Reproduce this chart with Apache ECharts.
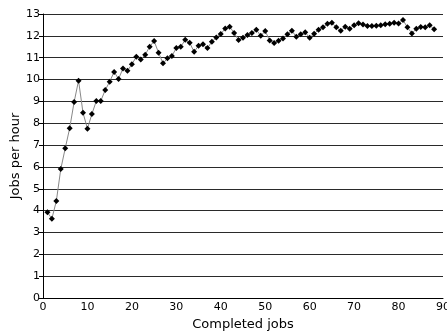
<!DOCTYPE html>
<html>
<head>
<meta charset="utf-8">
<script src="https://cdn.jsdelivr.net/npm/echarts@6/dist/echarts.min.js"></script>
<style>
  html, body { margin: 0; padding: 0; background: #fff; }
  #chart { width: 447px; height: 331px; }
</style>
</head>
<body>
<div id="chart"></div>
<script>
// Throughput after each completed job
const completedJobs = [
  1, 2, 3, 4, 5, 6, 7, 8, 9, 10,
  11, 12, 13, 14, 15, 16, 17, 18, 19, 20,
  21, 22, 23, 24, 25, 26, 27, 28, 29, 30,
  31, 32, 33, 34, 35, 36, 37, 38, 39, 40,
  41, 42, 43, 44, 45, 46, 47, 48, 49, 50,
  51, 52, 53, 54, 55, 56, 57, 58, 59, 60,
  61, 62, 63, 64, 65, 66, 67, 68, 69, 70,
  71, 72, 73, 74, 75, 76, 77, 78, 79, 80,
  81, 82, 83, 84, 85, 86, 87, 88
];
const jobsPerHour = [
  3.92, 3.63, 4.44, 5.90, 6.85, 7.77, 8.97, 9.95, 8.48, 7.75,
  8.42, 9.02, 9.02, 9.52, 9.90, 10.35, 10.03, 10.51, 10.40, 10.70,
  11.04, 10.92, 11.14, 11.50, 11.76, 11.23, 10.74, 10.97, 11.08, 11.44,
  11.50, 11.82, 11.68, 11.27, 11.55, 11.61, 11.44, 11.73, 11.93, 12.08,
  12.34, 12.42, 12.13, 11.81, 11.91, 12.04, 12.13, 12.28, 12.00, 12.22,
  11.79, 11.67, 11.77, 11.88, 12.07, 12.23, 11.96, 12.07, 12.16, 11.91,
  12.10, 12.28, 12.39, 12.55, 12.60, 12.39, 12.23, 12.42, 12.33, 12.49,
  12.58, 12.52, 12.45, 12.45, 12.46, 12.48, 12.53, 12.55, 12.60, 12.56,
  12.72, 12.39, 12.11, 12.33, 12.40, 12.39, 12.49, 12.30
];
const xAxisRange = { min: 0, max: 90, step: 10 };
const yAxisRange = { min: 0, max: 13, step: 1 };

const points = completedJobs.map((x, i) => [x, jobsPerHour[i]]);
const font = 'DejaVu Sans, Verdana, sans-serif';

const chart = echarts.init(document.getElementById('chart'), null, { renderer: 'canvas' });
chart.setOption({
  animation: false,
  backgroundColor: '#ffffff',
  grid: {
    left: 43, right: 4, top: 14, bottom: 33,
    containLabel: false,
    outerBoundsMode: 'none'
  },
  xAxis: {
    type: 'value',
    min: xAxisRange.min, max: xAxisRange.max, interval: xAxisRange.step,
    name: 'Completed jobs',
    nameLocation: 'middle',
    nameGap: 20,
    nameMoveOverlap: false,
    nameTextStyle: { fontFamily: font, fontSize: 13, color: '#000' },
    axisLine: { show: true, lineStyle: { color: '#000', width: 1 } },
    axisTick: { show: false },
    axisLabel: { fontFamily: font, fontSize: 11, color: '#000', margin: 4 },
    splitLine: { show: false }
  },
  yAxis: {
    type: 'value',
    min: yAxisRange.min, max: yAxisRange.max, interval: yAxisRange.step,
    name: 'Jobs per hour',
    nameLocation: 'middle',
    nameGap: 21,
    nameRotate: 90,
    nameMoveOverlap: false,
    nameTextStyle: { fontFamily: font, fontSize: 13, color: '#000' },
    axisLine: { show: true, lineStyle: { color: '#000', width: 1 } },
    axisTick: { show: true, length: 4, lineStyle: { color: '#000' } },
    axisLabel: { fontFamily: font, fontSize: 11, color: '#000', margin: 3 },
    splitLine: { show: true, lineStyle: { color: '#2a2a2a', width: 1 } }
  },
  series: [{
    type: 'line',
    data: points,
    symbol: 'diamond',
    symbolSize: 6,
    showAllSymbol: true,
    lineStyle: { color: '#888888', width: 1 },
    itemStyle: { color: '#000000', borderWidth: 0 }
  }]
});
</script>
</body>
</html>
